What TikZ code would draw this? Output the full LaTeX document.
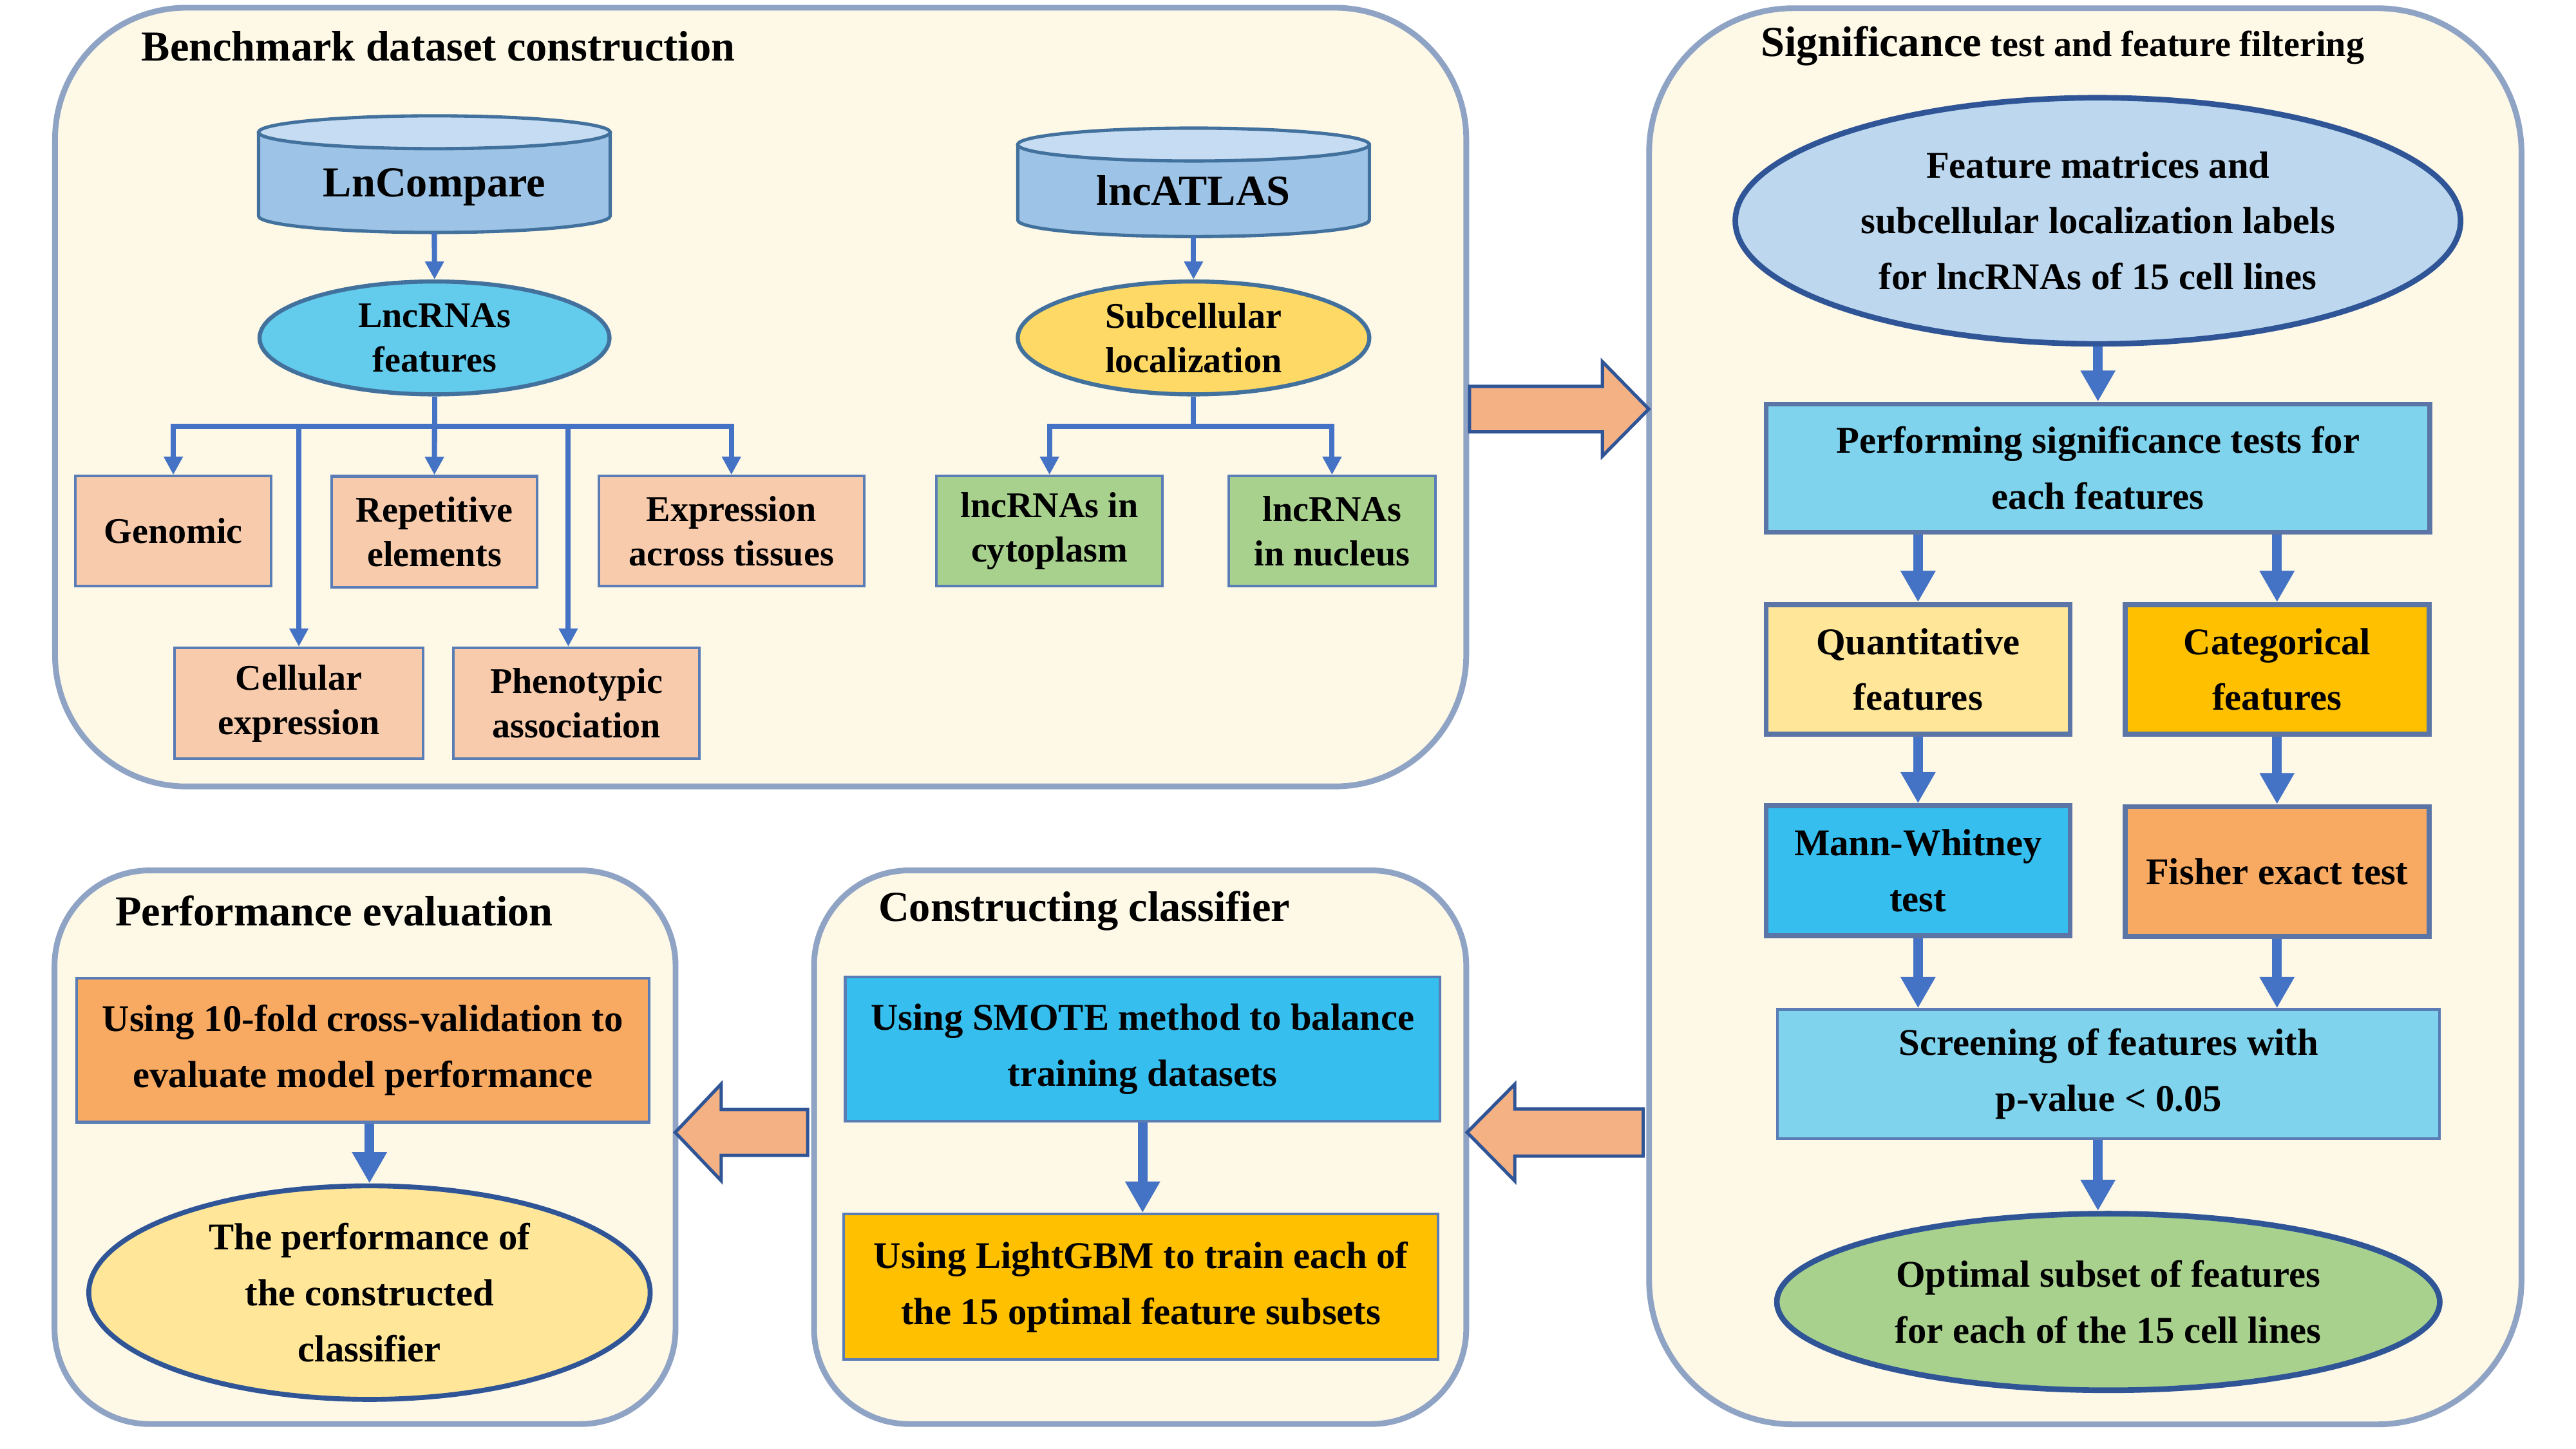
\documentclass[tikz,border=0pt]{standalone}
\usepackage{fontspec}
\setmainfont{Liberation Serif}
\usetikzlibrary{positioning, shapes.geometric, arrows.meta}

\definecolor{panelfill}{HTML}{FEF8E7}
\definecolor{panelline}{HTML}{8FA3C4}
\definecolor{connblue}{HTML}{4472C4}
\definecolor{dbbody}{HTML}{9DC3E6}
\definecolor{dbtop}{HTML}{C5DCF2}
\definecolor{dbline}{HTML}{41719C}
\definecolor{ellline}{HTML}{2F5597}
\definecolor{itemline}{HTML}{5B7DB5}
\definecolor{stepline}{HTML}{5A75A6}
\definecolor{skyfill}{HTML}{63CBEC}
\definecolor{goldfill}{HTML}{FFD966}
\definecolor{salmonfill}{HTML}{F8CBAD}
\definecolor{greenfill}{HTML}{A9D18E}
\definecolor{paleblue}{HTML}{BDD7EE}
\definecolor{cyanfill}{HTML}{7FD3EC}
\definecolor{lightyellow}{HTML}{FFE699}
\definecolor{amberfill}{HTML}{FFC000}
\definecolor{brightblue}{HTML}{35BEEE}
\definecolor{orangefill}{HTML}{F8AA62}
\definecolor{bigfill}{HTML}{F4B183}

\newcommand{\benchfont}{\fontsize{22}{27}\selectfont\bfseries}
\newcommand{\stepfont}{\fontsize{23}{34}\selectfont\bfseries}
\newcommand{\paneltitlefont}{\fontsize{26}{30}\selectfont\bfseries}

% database drum drawn round a sizing node
\newcommand{\drawdb}[1]{%
  \draw[draw=dbline, line width=2pt, fill=dbbody] ([yshift=-10pt]#1.north west) -- ([yshift=10pt]#1.south west)
    arc[start angle=180, end angle=360, x radius=107pt, y radius=10pt] -- ([yshift=-10pt]#1.north east) -- cycle;
  \draw[draw=dbline, line width=2pt, fill=dbtop] ([yshift=-10pt]#1.north) ellipse[x radius=107pt, y radius=10pt];}

\tikzset{
  panel/.style={draw=panelline, line width=3.5pt, fill=panelfill},
  paneltitle/.style={anchor=west, inner sep=0pt, font=\paneltitlefont},
  dbnode/.style={rectangle, inner sep=0pt, outer sep=0pt, minimum width=214pt},
  dbtext/.style={inner sep=0pt, font=\fontsize{26}{30}\selectfont\bfseries},
  featell/.style={ellipse, draw=dbline, line width=2.5pt, align=center, font=\benchfont, inner sep=0pt},
  itembox/.style={rectangle, draw=itemline, line width=1.6pt, align=center, font=\benchfont, inner sep=0pt},
  stepbox/.style={rectangle, draw=stepline, line width=3pt, align=center, font=\stepfont, inner sep=0pt},
  flatbox/.style={rectangle, draw=itemline, line width=1.6pt, align=center, font=\stepfont, inner sep=0pt},
  stepell/.style={ellipse, draw=ellline, line width=3.4pt, align=center, font=\stepfont, inner sep=0pt},
  thinline/.style={draw=connblue, line width=3.2pt},
  thinarrow/.style={thinline, -{Triangle[length=11pt,width=11pt]}},
  thickarrow/.style={draw=connblue, line width=6pt, -{Triangle[length=19pt,width=20pt]}},
  bigarrow/.style={draw=ellline, line width=2pt, fill=bigfill, line join=miter},
}

\begin{document}
\begin{tikzpicture}[x=1pt,y=-1pt]
\fill[white] (0,0) rectangle (1568,882);
\useasboundingbox (0,0) rectangle (1568,882);

% panels
\node[panel, rounded corners=80pt, minimum width=859pt, minimum height=474pt] (bench) at (463,241.7) {};
\node[panel, rounded corners=88pt, minimum width=531pt, minimum height=862pt] (signif) at (1269.3,436) {};
\node[panel, rounded corners=58pt, minimum width=378pt, minimum height=337pt] (perf) at (222.2,698.3) {};
\node[panel, rounded corners=58pt, minimum width=397pt, minimum height=337pt] (constr) at (694,698.3) {};

\node[paneltitle] (benchtitle) at (86,28) {Benchmark dataset construction};
\node[paneltitle] (signiftitle) at (1071.6,28) {Significance{\fontsize{22}{30}\selectfont{} test and feature filtering}};
\node[paneltitle] (perftitle) at (70,554.5) {Performance evaluation};
\node[paneltitle] (constrtitle) at (534.5,554.5) {Constructing classifier};

% benchmark dataset construction
\node[dbnode, minimum height=71pt] (lncomp) at (264.4,106) {};
\drawdb{lncomp}
\node[dbtext] (lncomptext) at (264.4,114) {LnCompare};
\node[dbnode, minimum height=66pt] (lncatlas) at (726.5,111) {};
\drawdb{lncatlas}
\node[dbtext] (lncatlastext) at (726.5,116) {lncATLAS};
\node[featell, fill=skyfill, minimum width=213pt, minimum height=68.7pt] (feat) at (264.5,205.7) {LncRNAs\\features};
\node[featell, fill=goldfill, minimum width=214pt, minimum height=68.7pt] (subloc) at (726.5,205.7) {Subcellular\\localization};

\node[itembox, fill=salmonfill, minimum width=119pt, minimum height=67pt] (genomic) at (105.5,323.3) {Genomic};
\node[itembox, fill=salmonfill, minimum width=125pt, minimum height=67.6pt] (rep) at (264.4,323.7) {Repetitive\\elements};
\node[itembox, fill=salmonfill, minimum width=161.6pt, minimum height=67pt] (expr) at (445.2,323.3) {Expression\\across tissues};
\node[itembox, fill=salmonfill, minimum width=151.2pt, minimum height=67.5pt] (cell) at (181.9,428.1) {Cellular\\expression};
\node[itembox, fill=salmonfill, minimum width=149.8pt, minimum height=67.5pt] (phen) at (350.9,428.1) {Phenotypic\\association};
\node[itembox, fill=greenfill, minimum width=137.6pt, minimum height=67pt] (cyto) at (638.8,323.3) {lncRNAs in\\cytoplasm};
\node[itembox, fill=greenfill, minimum width=125.6pt, minimum height=67pt] (nucl) at (810.8,323.3) {lncRNAs\\in nucleus};

\coordinate (fbar) at (264.5,259.4);
\coordinate (sbar) at (726.5,259.4);
\coordinate (phentop) at ([xshift=-5pt]phen.north);

\draw[thinarrow] (lncomp.south) -- (feat.north);
\draw[thinarrow] (lncatlas.south) -- (subloc.north);
\draw[thinline] (feat.south) -- (fbar);
\draw[thinarrow] (fbar) -| (genomic.north);
\draw[thinarrow] (fbar) -- (rep.north);
\draw[thinarrow] (fbar) -| (expr.north);
\draw[thinarrow] (fbar -| cell.north) -- (cell.north);
\draw[thinarrow] (fbar -| phentop) -- (phentop);
\draw[thinline] (subloc.south) -- (sbar);
\draw[thinarrow] (sbar) -| (cyto.north);
\draw[thinarrow] (sbar) -| (nucl.north);

% significance test and feature filtering
\node[stepell, fill=paleblue, minimum width=441.5pt, minimum height=149.8pt] (fmat) at (1277,134.4) {Feature matrices and\\subcellular localization labels\\for lncRNAs of 15 cell lines};
\node[stepbox, fill=cyanfill, minimum width=404pt, minimum height=78pt] (perform) at (1277,285) {Performing significance tests for\\each features};
\node[stepbox, fill=lightyellow, minimum width=185pt, minimum height=79pt] (quant) at (1167.5,407.5) {Quantitative\\features};
\node[stepbox, fill=amberfill, minimum width=185pt, minimum height=79pt] (categ) at (1386,407.5) {Categorical\\features};
\node[stepbox, fill=brightblue, minimum width=185pt, minimum height=79pt] (mann) at (1167.5,530) {Mann-Whitney\\test};
\node[stepbox, fill=orangefill, minimum width=185pt, minimum height=79pt] (fisher) at (1386,530.5) {Fisher exact test};
\node[flatbox, fill=cyanfill, minimum width=403pt, minimum height=78.5pt] (screen) at (1283.5,653.7) {Screening of features with\\p-value < 0.05};
\node[stepell, fill=greenfill, minimum width=403.5pt, minimum height=107.5pt] (optim) at (1283.3,792.5) {Optimal subset of features\\for each of the 15 cell lines};

\draw[thickarrow] (fmat.south) -- (perform.north);
\draw[thickarrow] (perform.south -| quant.north) -- (quant.north);
\draw[thickarrow] (perform.south -| categ.north) -- (categ.north);
\draw[thickarrow] (quant.south) -- (mann.north);
\draw[thickarrow] (categ.south) -- (fisher.north);
\draw[thickarrow] (mann.south) -- (mann.south |- screen.north);
\draw[thickarrow] (fisher.south) -- (fisher.south |- screen.north);
\draw[thickarrow] (screen.south -| perform.south) -- (optim.north -| perform.south);

% constructing classifier
\node[flatbox, fill=brightblue, minimum width=362pt, minimum height=88pt] (smote) at (695.5,638.5) {Using SMOTE method to balance\\training datasets};
\node[flatbox, fill=amberfill, minimum width=362pt, minimum height=88.6pt] (lgbm) at (694.5,783.3) {Using LightGBM to train each of\\the 15 optimal feature subsets};
\draw[thickarrow] (smote.south) -- (smote.south |- lgbm.north);

% performance evaluation
\node[flatbox, fill=orangefill, minimum width=348.5pt, minimum height=87.7pt] (tenfold) at (220.8,639.2) {Using 10-fold cross-validation to\\evaluate model performance};
\node[stepell, line width=3pt, fill=lightyellow, minimum width=341.7pt, minimum height=130pt] (perfell) at (224.9,786.8) {The performance of\\the constructed\\classifier};
\draw[thickarrow] (tenfold.south -| perfell.north) -- (perfell.north);

% block arrows between panels
\draw[bigarrow] (894.5,235.2) -- (975.4,235.2) -- (975.4,220.2) -- (1003.6,249) -- (975.4,277.6) -- (975.4,262.9) -- (894.5,262.9) -- cycle;
\draw[bigarrow] (1000.2,675) -- (922,675) -- (922,660) -- (893,689.3) -- (922,718.8) -- (922,703.7) -- (1000.2,703.7) -- cycle;
\draw[bigarrow] (491.6,675.3) -- (439,675.3) -- (439,659.8) -- (411,689.3) -- (439,718.7) -- (439,703.3) -- (491.6,703.3) -- cycle;
\end{tikzpicture}
\end{document}
